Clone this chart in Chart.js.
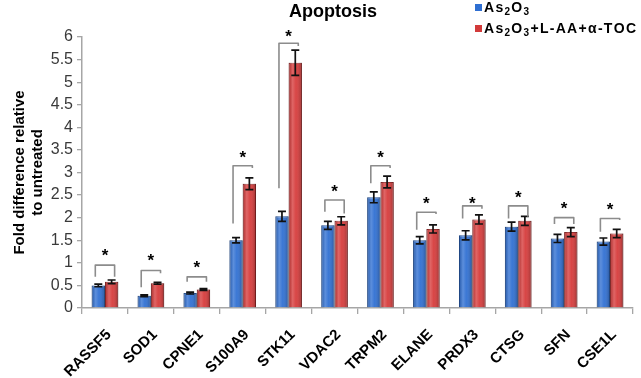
<!DOCTYPE html>
<html><head><meta charset="utf-8">
<script src="https://cdn.jsdelivr.net/npm/chart.js@4"></script>
<style>html,body{margin:0;padding:0;background:#fff}</style>
</head><body>
<canvas id="c" width="641" height="378"></canvas>
<script>
const chartTitle = 'Apoptosis';
const seriesLabels = ['As₂O₃', 'As₂O₃+L-AA+α-TOC'];
const categories = ['RASSF5','SOD1','CPNE1','S100A9','STK11','VDAC2','TRPM2','ELANE','PRDX3','CTSG','SFN','CSE1L'];
const as2o3     = [0.50,0.27,0.33,1.50,2.03,1.83,2.45,1.50,1.61,1.80,1.54,1.47];
const combo     = [0.58,0.55,0.41,2.75,5.43,1.93,2.79,1.75,1.96,1.93,1.68,1.65];
const as2o3Err  = [0.03,0.02,0.02,0.06,0.11,0.09,0.12,0.08,0.10,0.10,0.09,0.08];
const comboErr  = [0.04,0.02,0.02,0.13,0.28,0.09,0.13,0.09,0.10,0.10,0.10,0.09];
// significance brackets (values on y axis)
const bracketTop   = [0.95,0.83,0.69,3.15,5.86,2.39,3.15,2.12,2.26,2.26,2.00,1.98];
const bracketLeft  = [0.69,0.46,0.58,1.87,2.65,2.13,2.76,1.73,1.98,1.98,1.86,1.69];
const bracketRight = [0.69,0.77,0.58,3.10,5.80,2.09,3.10,2.08,2.20,2.02,1.86,1.95];
const starLevel    = [1.24,1.13,0.99,3.41,6.11,2.67,3.42,2.41,2.41,2.54,2.29,2.26];
const yMin = 0, yMax = 6, yStep = 0.5;
const yTitle = ['Fold difference relative','to untreated'];

const FONT = 'Arial, "Liberation Sans", sans-serif';

function drawRich(ctx, text, x, y, size) {
  let cx = x;
  for (const ch of text) {
    const sub = {'₂':'2','₃':'3'}[ch];
    if (sub) {
      ctx.font = 'bold ' + Math.round(size*0.72) + 'px ' + FONT;
      ctx.fillText(sub, cx, y + size*0.2);
      cx += ctx.measureText(sub).width + 1.3;
    } else {
      ctx.font = 'bold ' + size + 'px ' + FONT;
      ctx.fillText(ch, cx, y);
      cx += ctx.measureText(ch).width + 1.3;
    }
  }
}

const extras = {
  id: 'extras',
  afterDatasetsDraw(chart) {
    const ctx = chart.ctx, ys = chart.scales.y;
    const m0 = chart.getDatasetMeta(0).data, m1 = chart.getDatasetMeta(1).data;
    ctx.save();
    // glossy overlay
    [m0, m1].forEach(meta => meta.forEach(bar => {
      const l = bar.x - bar.width/2, r = bar.x + bar.width/2;
      const g = ctx.createLinearGradient(l, 0, r, 0);
      g.addColorStop(0, 'rgba(0,0,0,0.18)');
      g.addColorStop(0.3, 'rgba(255,255,255,0.22)');
      g.addColorStop(0.55, 'rgba(255,255,255,0.06)');
      g.addColorStop(1, 'rgba(0,0,0,0.28)');
      ctx.fillStyle = g;
      ctx.fillRect(l, bar.y, r - l, bar.base - bar.y);
    }));
    // error bars
    ctx.strokeStyle = '#111';
    ctx.lineWidth = 1.7;
    const errs = [as2o3Err, comboErr], vals = [as2o3, combo];
    [m0, m1].forEach((meta, d) => meta.forEach((bar, i) => {
      const hi = ys.getPixelForValue(vals[d][i] + errs[d][i]);
      const lo = ys.getPixelForValue(vals[d][i] - errs[d][i]);
      ctx.beginPath();
      ctx.moveTo(bar.x, hi); ctx.lineTo(bar.x, lo);
      ctx.moveTo(bar.x - 4, hi); ctx.lineTo(bar.x + 4, hi);
      ctx.moveTo(bar.x - 4, lo); ctx.lineTo(bar.x + 4, lo);
      ctx.stroke();
    }));
    // brackets
    ctx.strokeStyle = '#8c8c8c';
    ctx.lineWidth = 1.6;
    ctx.lineJoin = 'round';
    categories.forEach((c, i) => {
      const xl = m0[i].x - 3, xr = m1[i].x + 3;
      const yt = ys.getPixelForValue(bracketTop[i]);
      ctx.beginPath();
      ctx.moveTo(xl, ys.getPixelForValue(bracketLeft[i]));
      ctx.lineTo(xl, yt);
      ctx.lineTo(xr, yt);
      ctx.lineTo(xr, ys.getPixelForValue(bracketRight[i]));
      ctx.stroke();
      ctx.fillStyle = '#000';
      ctx.font = 'bold 17px ' + FONT;
      ctx.textAlign = 'center';
      ctx.textBaseline = 'alphabetic';
      ctx.fillText('*', (m0[i].x + m1[i].x)/2, ys.getPixelForValue(starLevel[i]) + 9.5);
    });
    ctx.restore();
  },
  afterDraw(chart) {
    const ctx = chart.ctx;
    ctx.save();
    ctx.fillStyle = '#000';
    ctx.textAlign = 'center';
    ctx.textBaseline = 'alphabetic';
    ctx.font = 'bold 18px ' + FONT;
    ctx.fillText(chartTitle, 333, 17);
    // legend
    const colors = ['#2f6fd2', '#d23a3a'];
    ctx.textAlign = 'left';
    seriesLabels.forEach((lab, i) => {
      const y = 12 + i*21;
      ctx.fillStyle = colors[i];
      ctx.fillRect(475, y - 8, 7, 7);
      ctx.fillStyle = '#000';
      drawRich(ctx, lab, 484, y, 14);
    });
    ctx.restore();
  }
};

new Chart(document.getElementById('c'), {
  type: 'bar',
  data: {
    labels: categories,
    datasets: [
      { label: seriesLabels[0], data: as2o3, backgroundColor: '#2f6fd2', borderColor: '#1f4f9a', borderWidth: 1,
        categoryPercentage: 0.58, barPercentage: 1.0 },
      { label: seriesLabels[1], data: combo, backgroundColor: '#d63a3a', borderColor: '#8e1f1f', borderWidth: 1,
        categoryPercentage: 0.58, barPercentage: 1.0 }
    ]
  },
  options: {
    responsive: false,
    animation: false,
    devicePixelRatio: 1,
    layout: { padding: { top: 37, right: 8, left: 0, bottom: 0 } },
    plugins: { legend: { display: false }, title: { display: false }, tooltip: { enabled: false } },
    scales: {
      x: {
        grid: { display: true, drawOnChartArea: false, drawTicks: true, tickLength: 6, color: '#a6a6a6', offset: true, lineWidth: 1.3 },
        border: { color: '#a6a6a6', width: 1.5 },
        ticks: { font: { family: FONT, weight: 'bold', size: 15 }, color: '#000', maxRotation: 45, minRotation: 45, padding: 12, labelOffset: 4, autoSkip: false },
        afterFit(s) { s.height = 70; s.paddingLeft = 0; s.paddingRight = 0; }
      },
      y: {
        min: yMin, max: yMax,
        grid: { display: true, drawOnChartArea: false, drawTicks: true, tickLength: 5, color: '#a6a6a6', lineWidth: 1.3 },
        border: { color: '#a6a6a6', width: 1.5 },
        ticks: { stepSize: yStep, autoSkip: false, font: { family: FONT, size: 16 }, color: '#3a3a3a', padding: 4, callback: v => String(v) },
        title: { display: true, text: yTitle, font: { family: FONT, weight: 'bold', size: 15 }, color: '#000', padding: { top: 11, bottom: 0 } },
        afterFit(s) { s.width = 82; s.paddingTop = 0; s.paddingBottom = 0; }
      }
    }
  },
  plugins: [extras]
});
</script>
</body></html>
